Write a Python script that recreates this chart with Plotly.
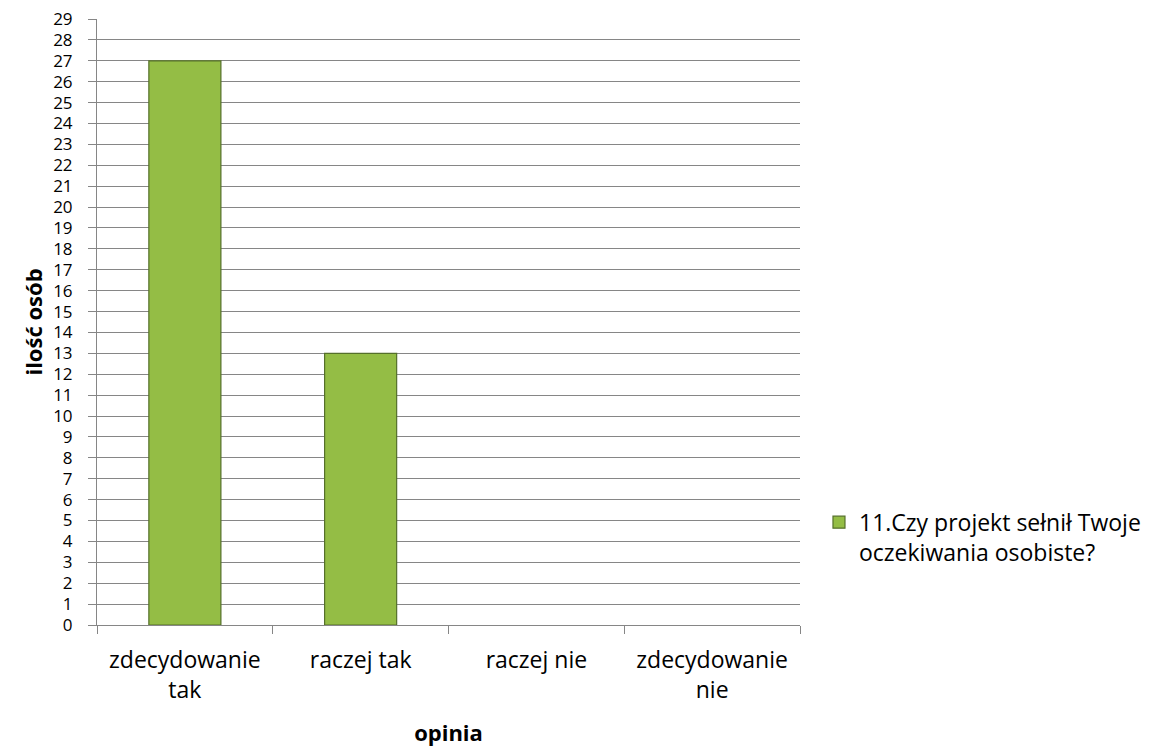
import plotly.graph_objects as go

# Survey answers and counts
categories = ["zdecydowanie<br>tak", "raczej tak", "raczej nie", "zdecydowanie<br>nie"]
counts = [27, 13, 0, 0]
series_name = "11.Czy projekt sełnił Twoje<br>oczekiwania osobiste?"
y_ticks = list(range(0, 30))

FONT = "Open Sans"
GRID = "#868686"

# empty categories get no outline so nothing is drawn on the axis
outline_widths = [1.2 if c > 0 else 0 for c in counts]

fig = go.Figure()
fig.add_trace(go.Bar(
    x=categories,
    y=counts,
    name=series_name,
    marker=dict(color="#94bd45", line=dict(color="#55702a", width=outline_widths)),
    showlegend=True,
))

fig.update_layout(
    width=1151,
    height=747,
    margin=dict(l=97, r=351, t=19, b=122, autoexpand=False),
    paper_bgcolor="white",
    plot_bgcolor="white",
    bargap=0.59,
    font=dict(family=FONT, size=22, color="black"),
    showlegend=True,
    legend=dict(
        x=1.027, xanchor="left",
        y=0.205, yanchor="top",
        valign="top",
        font=dict(family=FONT, size=23, color="black"),
        itemwidth=30,
        bgcolor="rgba(0,0,0,0)",
    ),
    xaxis=dict(
        type="category",
        automargin=False,
        showline=True, linecolor=GRID, linewidth=1,
        ticks="outside", tickson="boundaries", ticklen=8, tickcolor=GRID,
        showgrid=False,
        ticklabelstandoff=14,
        tickfont=dict(family=FONT, size=23),
        title=dict(text="<b>opinia</b>", font=dict(family=FONT, size=22), standoff=30),
    ),
    yaxis=dict(
        range=[0, 29],
        automargin=False,
        tickvals=y_ticks,
        showline=True, linecolor=GRID, linewidth=1,
        ticks="outside", ticklen=8, tickcolor=GRID,
        showgrid=True, gridcolor=GRID, gridwidth=1,
        zeroline=False,
        ticklabelstandoff=12,
        tickfont=dict(family=FONT, size=17),
        title=dict(text="<b>ilość osób</b>", font=dict(family=FONT, size=22), standoff=4),
    ),
)

fig.write_html("out.html")
